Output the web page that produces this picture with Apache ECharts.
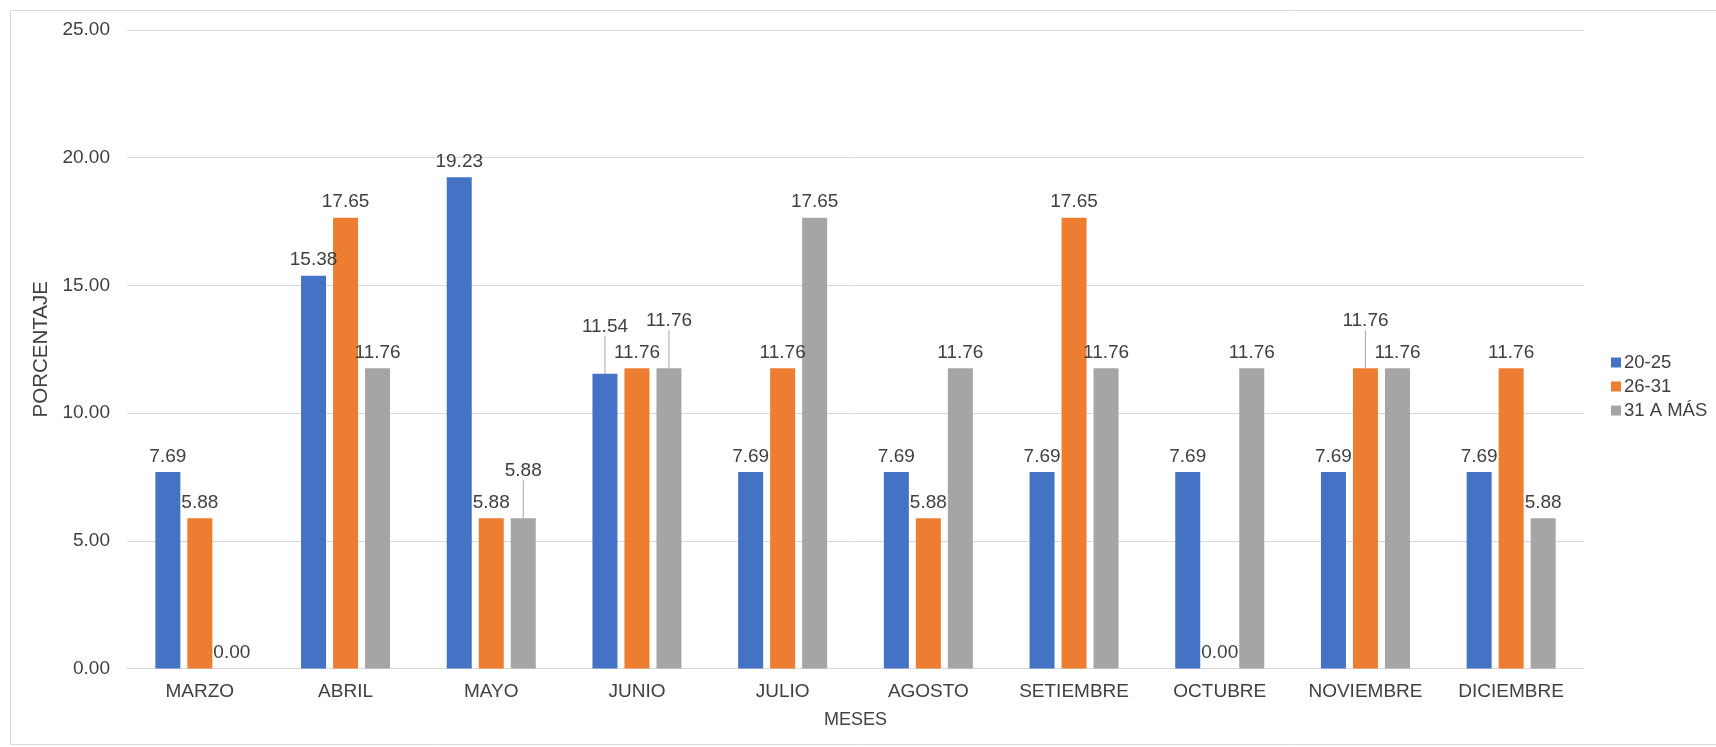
<!DOCTYPE html>
<html>
<head>
<meta charset="utf-8">
<script src="https://cdn.jsdelivr.net/npm/echarts@6/dist/echarts.min.js"></script>
<style>
  html, body { margin: 0; padding: 0; background: #ffffff; overflow: hidden; }
  #chart { width: 1716px; height: 747px; }
</style>
</head>
<body>
<div id="chart"></div>
<script>
// ---- data ----
var months = ['MARZO', 'ABRIL', 'MAYO', 'JUNIO', 'JULIO', 'AGOSTO', 'SETIEMBRE', 'OCTUBRE', 'NOVIEMBRE', 'DICIEMBRE'];
var seriesNames = ['20-25', '26-31', '31 A MÁS'];
var values2025 = [7.69, 15.38, 19.23, 11.54, 7.69, 7.69, 7.69, 7.69, 7.69, 7.69];
var values2631 = [5.88, 17.65, 5.88, 11.76, 11.76, 5.88, 17.65, 0.00, 11.76, 11.76];
var values31mas = [0.00, 11.76, 5.88, 11.76, 17.65, 11.76, 11.76, 11.76, 11.76, 5.88];
var yTicks = [0, 5, 10, 15, 20, 25];
var yAxisTitle = 'PORCENTAJE';
var xAxisTitle = 'MESES';

// labels that were pulled up with a leader line in the original: [seriesIndex, month]
var raisedLabels = [[0, 'JUNIO'], [2, 'JUNIO'], [2, 'MAYO'], [1, 'NOVIEMBRE']];

var colors = ['#4472C4', '#ED7D31', '#A5A5A5'];
var FONT = '"Liberation Sans", Arial, sans-serif';

function isRaised(si, di) {
  for (var i = 0; i < raisedLabels.length; i++) {
    if (raisedLabels[i][0] === si && raisedLabels[i][1] === months[di]) return true;
  }
  return false;
}

function buildData(arr, si) {
  return arr.map(function (v, di) {
    return isRaised(si, di) ? { value: v, labelLine: { show: true } } : { value: v };
  });
}

var allValues = [values2025, values2631, values31mas];

var series = allValues.map(function (arr, si) {
  return {
    name: seriesNames[si],
    type: 'bar',
    barWidth: 25,
    barGap: '28%',
    itemStyle: { color: colors[si] },
    data: buildData(arr, si),
    label: {
      show: true,
      position: 'top',
      distance: 6,
      fontFamily: FONT,
      fontSize: 19,
      color: '#404040',
      formatter: function (p) { return Number(p.value).toFixed(2); }
    },
    labelLine: { show: false, lineStyle: { color: '#A6A6A6', width: 1 }, length2: 0 },
    labelLayout: function (params) {
      if (isRaised(params.seriesIndex, params.dataIndex)) {
        return { dy: -32 };
      }
      return {};
    },
    animation: false
  };
});

var chart = echarts.init(document.getElementById('chart'), null, { renderer: 'canvas' });
chart.setOption({
  animation: false,
  backgroundColor: '#ffffff',
  graphic: [{
    type: 'polyline',
    shape: { points: [[1716, 10.5], [10.5, 10.5], [10.5, 744.5], [1716, 744.5]] },
    style: { fill: null, stroke: '#D9D9D9', lineWidth: 1 },
    silent: true,
    z: -10
  }],
  legend: {
    orient: 'vertical',
    left: 1606,
    top: 348,
    itemWidth: 10,
    itemHeight: 10,
    itemGap: 5,
    icon: 'rect',
    data: seriesNames,
    textStyle: { fontFamily: FONT, fontSize: 18.5, color: '#404040', padding: [0, 0, 0, -2] }
  },
  grid: { left: 127, right: 132, top: 30, bottom: 78.5, containLabel: false },
  xAxis: {
    type: 'category',
    data: months,
    name: xAxisTitle,
    nameLocation: 'middle',
    nameGap: 43,
    nameTextStyle: { fontFamily: FONT, fontSize: 18, color: '#404040' },
    axisLine: { lineStyle: { color: '#D9D9D9', width: 1 } },
    axisTick: { show: false },
    axisLabel: { fontFamily: FONT, fontSize: 19, color: '#404040', margin: 14, interval: 0 }
  },
  yAxis: {
    type: 'value',
    min: yTicks[0],
    max: yTicks[yTicks.length - 1],
    interval: yTicks[1] - yTicks[0],
    name: yAxisTitle,
    nameLocation: 'middle',
    nameGap: 71,
    nameRotate: 90,
    nameTextStyle: { fontFamily: FONT, fontSize: 20.5, color: '#404040' },
    axisLine: { show: false },
    axisTick: { show: false },
    splitLine: { lineStyle: { color: '#D9D9D9', width: 1 } },
    axisLabel: {
      fontFamily: FONT, fontSize: 19, color: '#404040', margin: 17,
      formatter: function (v) { return v.toFixed(2); }
    }
  },
  series: series
});
</script>
</body>
</html>
